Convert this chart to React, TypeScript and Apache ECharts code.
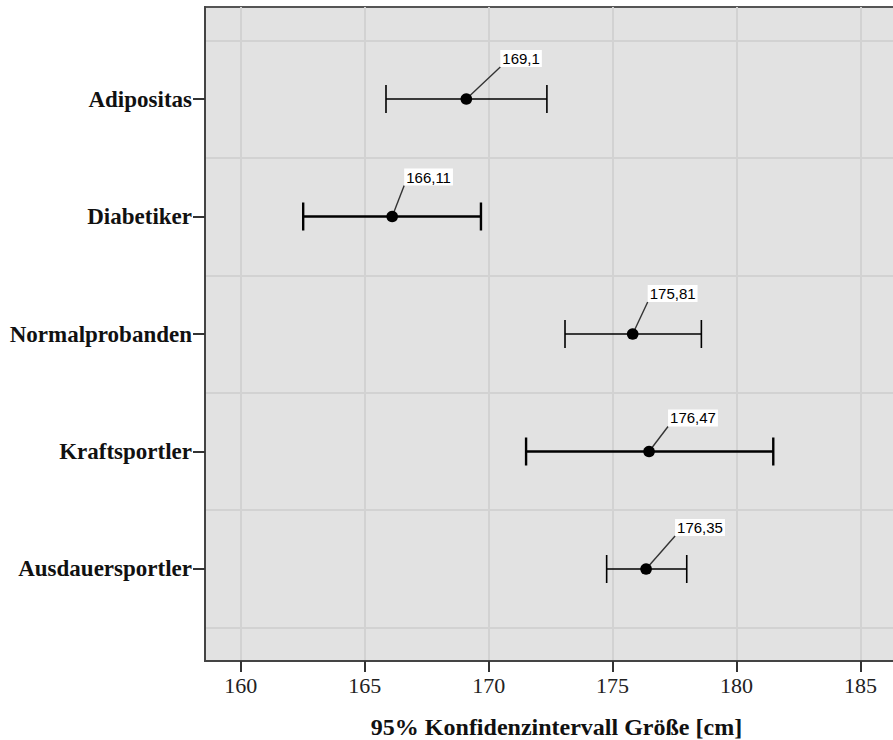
import React, { useEffect, useRef } from "react";
import * as echarts from "echarts";

// ---- data ----
const categories = ["Adipositas", "Diabetiker", "Normalprobanden", "Kraftsportler", "Ausdauersportler"];
const means = [169.1, 166.11, 175.81, 176.47, 176.35];
const lowerCI = [165.86, 162.52, 173.08, 171.51, 174.76];
const upperCI = [172.35, 169.69, 178.58, 181.48, 177.99];
const xTicks = [160, 165, 170, 175, 180, 185];

// ---- style (not data) ----
const barLineWidths = [1.6, 2.4, 1.6, 2.4, 1.6];
const labelNudges: [number, number][] = [[34, -32], [12, -31], [15, -32], [19, -25], [29, -33]];

const fmt = (v: number) => String(v).replace(".", ",");

export default function App() {
  const ref = useRef<HTMLDivElement>(null);
  useEffect(() => {
    if (!ref.current) return;
    const chart = echarts.init(ref.current, null, { renderer: "svg" });
    const rowIdx = categories.map((_, i) => i + 1);
    const data = categories.map((_, i) => [rowIdx[i], lowerCI[i], means[i], upperCI[i]]);
    const option: any = {
      animation: false,
      backgroundColor: "#fff",
      grid: {
        left: 205,
        top: 7,
        bottom: 79,
        right: -3,
        show: true,
        backgroundColor: "#e2e2e2",
        borderColor: "#555",
        borderWidth: 2,
        containLabel: false,
        outerBoundsMode: "none",
      },
      xAxis: {
        type: "value",
        min: 158.56,
        max: 186.43,
        axisLine: { show: true, lineStyle: { color: "#444", width: 2 } },
        axisTick: { show: true, length: 11, customValues: xTicks, lineStyle: { color: "#333", width: 2 } },
        axisLabel: {
          customValues: xTicks,
          fontFamily: "Liberation Serif",
          fontSize: 22,
          color: "#222",
          margin: 13,
        },
        splitLine: { show: true, lineStyle: { color: "#d2d2d2", width: 2 } },
        name: "95% Konfidenzintervall Größe [cm]",
        nameLocation: "middle",
        nameGap: 54,
        nameTextStyle: {
          fontFamily: "Liberation Serif",
          fontWeight: "bold",
          fontSize: 24,
          color: "#111",
          padding: [0, 0, 0, 12],
        },
      },
      yAxis: [
        {
          type: "value",
          inverse: true,
          min: 0.217,
          max: 5.783,
          axisLine: { show: true, lineStyle: { color: "#444", width: 2 } },
          axisTick: { show: true, length: 12, customValues: rowIdx, lineStyle: { color: "#333", width: 2 } },
          axisLabel: {
            customValues: rowIdx,
            formatter: (v: number) => categories[Math.round(v) - 1] ?? "",
            fontFamily: "Liberation Serif",
            fontWeight: "bold",
            fontSize: 23,
            color: "#111",
            margin: 13,
          },
          splitLine: { show: false },
        },
        {
          type: "value",
          inverse: true,
          min: 0.217,
          max: 5.783,
          position: "left",
          axisLine: { show: false },
          axisTick: { show: false, customValues: [0.5, 1.5, 2.5, 3.5, 4.5, 5.5] },
          axisLabel: { show: false },
          splitLine: { show: true, lineStyle: { color: "#d2d2d2", width: 2 } },
        },
      ],
      series: [
        {
          type: "custom",
          xAxisIndex: 0,
          yAxisIndex: 0,
          encode: { x: [1, 2, 3], y: 0 },
          data,
          z: 10,
          renderItem: (params: any, api: any) => {
            const i = params.dataIndex;
            const yv = api.value(0);
            const pL = api.coord([api.value(1), yv]);
            const pM = api.coord([api.value(2), yv]);
            const pH = api.coord([api.value(3), yv]);
            const w = barLineWidths[i];
            const cap = 14;
            const [dx, dy] = labelNudges[i];
            return {
              type: "group",
              children: [
                { type: "line", shape: { x1: pL[0], y1: pL[1], x2: pH[0], y2: pH[1] }, style: { stroke: "#000", lineWidth: w } },
                { type: "line", shape: { x1: pL[0], y1: pL[1] - cap, x2: pL[0], y2: pL[1] + cap }, style: { stroke: "#000", lineWidth: w } },
                { type: "line", shape: { x1: pH[0], y1: pH[1] - cap, x2: pH[0], y2: pH[1] + cap }, style: { stroke: "#000", lineWidth: w } },
                { type: "line", shape: { x1: pM[0], y1: pM[1], x2: pM[0] + dx, y2: pM[1] + dy }, style: { stroke: "#333", lineWidth: 1.4 } },
                { type: "circle", shape: { cx: pM[0], cy: pM[1], r: 5.8 }, style: { fill: "#000" } },
                {
                  type: "text",
                  x: pM[0] + dx,
                  y: pM[1] + dy,
                  style: {
                    text: fmt(means[i]),
                    fontFamily: "Liberation Sans",
                    fontSize: 15,
                    fill: "#000",
                    backgroundColor: "#fff",
                    padding: [1, 2, 1, 2],
                    align: "left",
                    verticalAlign: "bottom",
                  },
                },
              ],
            };
          },
        },
      ],
    };
    chart.setOption(option);
    return () => chart.dispose();
  }, []);
  return (
    <div
      ref={ref}
      style={{ position: "fixed", left: 0, top: 0, width: 893, height: 740, background: "#fff" }}
    />
  );
}
